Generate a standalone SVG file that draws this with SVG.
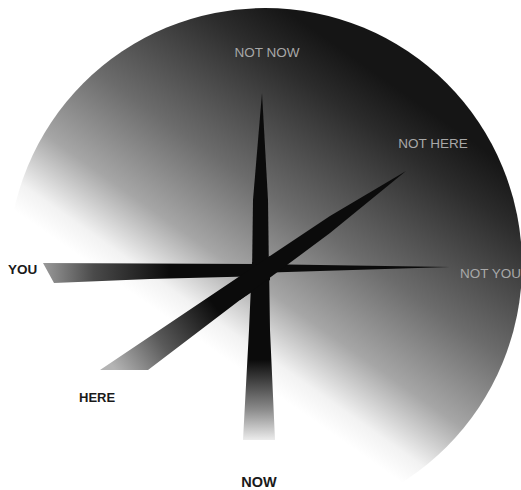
<svg xmlns="http://www.w3.org/2000/svg" width="521" height="490" viewBox="0 0 521 490">
  <style>
    .lbl-dark { font-family: "Liberation Sans", Arial, sans-serif; font-weight: bold; fill: #1a1a1a; }
    .lbl-light { font-family: "Liberation Sans", Arial, sans-serif; fill: #a8a8a8; }
    .spike { fill: #0b0b0b; }
  </style>
  <defs>
    <linearGradient id="bg" gradientUnits="userSpaceOnUse" x1="210" y1="348" x2="394" y2="86">
      <stop offset="0" stop-color="#ffffff"/>
      <stop offset="0.08" stop-color="#f2f2f2"/>
      <stop offset="0.25" stop-color="#a6a6a6"/>
      <stop offset="0.5" stop-color="#6c6c6c"/>
      <stop offset="0.85" stop-color="#2c2c2c"/>
      <stop offset="1" stop-color="#151515"/>
    </linearGradient>
    <linearGradient id="gDown" gradientUnits="userSpaceOnUse" x1="0" y1="360" x2="0" y2="442">
      <stop offset="0" stop-color="#0b0b0b"/>
      <stop offset="0.6" stop-color="#8a8a8a"/>
      <stop offset="1" stop-color="#f2f2f2"/>
    </linearGradient>
    <linearGradient id="gLeft" gradientUnits="userSpaceOnUse" x1="43" y1="0" x2="170" y2="0">
      <stop offset="0" stop-color="#9a9a9a"/>
      <stop offset="0.4" stop-color="#4a4a4a"/>
      <stop offset="1" stop-color="#0b0b0b"/>
    </linearGradient>
    <linearGradient id="gDiag" gradientUnits="userSpaceOnUse" x1="118" y1="374" x2="215" y2="306">
      <stop offset="0" stop-color="#b4b4b4"/>
      <stop offset="0.45" stop-color="#5a5a5a"/>
      <stop offset="1" stop-color="#0b0b0b"/>
    </linearGradient>
  </defs>

  <rect width="521" height="490" fill="#ffffff"/>
  <circle id="disc" cx="265" cy="265" r="257" fill="url(#bg)"/>

  <g id="spikes">
    <polygon id="spike-not-now" class="spike" points="262,93 268,200 269,275 252,275 253,200"/>
    <polygon id="spike-now" fill="url(#gDown)" points="252,262 269,262 270,330 275,440 243,440 249,330"/>
    <polygon id="spike-you" fill="url(#gLeft)" points="43,263 262,264 262,276 150,279 54,283"/>
    <polygon id="spike-not-you" class="spike" points="255,264 450,267 255,273"/>
    <polygon id="spike-here" fill="url(#gDiag)" points="100,370 240,276 270,256 270,280 240,300 148,370"/>
    <polygon id="spike-not-here" class="spike" points="240,276 330,216 406,171 330,233 240,300"/>
  </g>

  <g id="label-not-now"><text class="lbl-light" x="267" y="57" font-size="13.5" text-anchor="middle">NOT NOW</text></g>
  <g id="label-not-here"><text class="lbl-light" x="433" y="148" font-size="13.5" text-anchor="middle">NOT HERE</text></g>
  <g id="label-not-you"><text class="lbl-light" x="460" y="278" font-size="13.5">NOT YOU</text></g>
  <g id="label-you"><text class="lbl-dark" x="8" y="274" font-size="13.5">YOU</text></g>
  <g id="label-here"><text class="lbl-dark" x="79" y="402" font-size="13">HERE</text></g>
  <g id="label-now"><text class="lbl-dark" x="259" y="487" font-size="14.5" text-anchor="middle">NOW</text></g>
</svg>
